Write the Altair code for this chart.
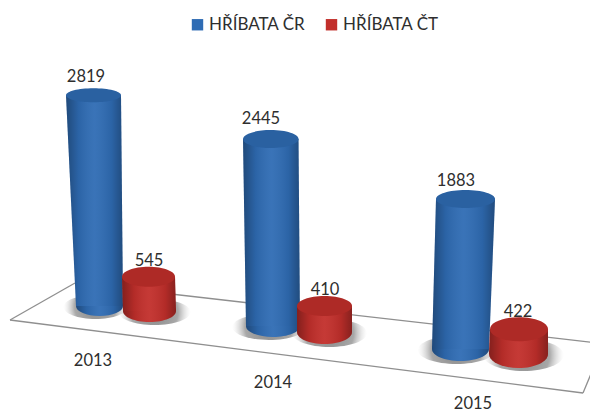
import altair as alt
import pandas as pd

# ---- values
years = ["2013", "2014", "2015"]
series = ["HŘÍBATA ČR", "HŘÍBATA ČT"]
values_cr = [2819, 2445, 1883]
values_ct = [545, 410, 422]

# ---- layout of the tilted 3D scene (page pixels of the reference), kept apart from the data
PX_PER_UNIT = 0.0755
W, H = 582, 406
foreshorten = {"HŘÍBATA ČR": [0.99, 1.013, 1.055], "HŘÍBATA ČT": [0.83, 0.84, 0.78]}
base_y = {"HŘÍBATA ČR": [306, 326, 349], "HŘÍBATA ČT": [311, 332, 354]}
top_edges = {"HŘÍBATA ČR": [(66, 121), (243, 298.5), (436, 495)],
             "HŘÍBATA ČT": [(122, 175), (297, 352), (490, 548)]}
bottom_edges = {"HŘÍBATA ČR": [(76, 123), (246, 300), (432, 489)],
                "HŘÍBATA ČT": [(123, 176), (297, 352), (489, 548)]}
top_ry = {"HŘÍBATA ČR": [7, 9, 9], "HŘÍBATA ČT": [10, 10, 12]}
bottom_ry = {"HŘÍBATA ČR": [10, 11, 12], "HŘÍBATA ČT": [11, 12, 14]}
shadow_shift = {"HŘÍBATA ČR": -4, "HŘÍBATA ČT": 5}
label_pos = {"HŘÍBATA ČR": [(86, 77), (261, 119), (456, 181)],
             "HŘÍBATA ČT": [(149, 261), (325, 290), (518, 312)]}
year_pos = [(93, 361), (273, 383), (473, 404)]
floor_edges = [[(10, 320), (75, 283)], [(10, 320), (583, 393)], [(583, 393), (598, 357)],
               [(75, 283), (598, 343)]]
colors = ["#2f6cb4", "#c22f2b"]
FONT = "Lato"
TEXT = "#2e2e2e"


def px_x(x):
    return x - 8


def unit_y(y):
    return (H + 8 - y) / PX_PER_UNIT


def ellipse(ratio):
    r = round(ratio, 3)
    return f"M-1,0A1,{r} 0 1 1 1,0A1,{r} 0 1 1 -1,0Z"


body, tops, bottoms, shadows, labels = [], [], [], [], []
for s, vals in zip(series, [values_cr, values_ct]):
    for i, v in enumerate(vals):
        b = unit_y(base_y[s][i])
        t = b + v * foreshorten[s][i]
        tl, tr = top_edges[s][i]
        bl, br = bottom_edges[s][i]
        bar = f"{s}-{years[i]}"
        body.append(dict(series=s, bar=bar, y=t, x=px_x(tl), x2=px_x(tr)))
        body.append(dict(series=s, bar=bar, y=b, x=px_x(bl), x2=px_x(br)))
        tops.append(dict(series=s, y=t, x=px_x((tl + tr) / 2), size=(tr - tl) ** 2,
                         path=ellipse(2 * top_ry[s][i] / (tr - tl))))
        bottoms.append(dict(series=s, y=b, x=px_x((bl + br) / 2), size=(br - bl) ** 2,
                            path=ellipse(2 * bottom_ry[s][i] / (br - bl))))
        shadow_w = (br - bl) * 1.36
        shadows.append(dict(y=unit_y(base_y[s][i] + 1), x=px_x((bl + br) / 2 + shadow_shift[s]),
                            size=shadow_w ** 2,
                            path=ellipse(2 * (bottom_ry[s][i] + 2) / shadow_w)))
        labels.append(dict(text=str(v), x=px_x(label_pos[s][i][0]), y=unit_y(label_pos[s][i][1])))

body, tops, bottoms = map(pd.DataFrame, (body, tops, bottoms))
floor = pd.DataFrame([dict(edge=k, x=px_x(x), y=unit_y(y))
                      for k, e in enumerate(floor_edges) for x, y in e])
year_df = pd.DataFrame([dict(text=t, x=px_x(p[0]), y=unit_y(p[1])) for t, p in zip(years, year_pos)])

xs = alt.Scale(domain=[0, W], range=[0, W], nice=False, zero=False)
ys = alt.Scale(domain=[0, H / PX_PER_UNIT], range=[H, 0], nice=False, zero=False)
X = alt.X("x:Q", scale=xs, axis=None)
Y = alt.Y("y:Q", scale=ys, axis=None)
color = alt.Color("series:N", scale=alt.Scale(domain=series, range=colors), title=None,
                  legend=alt.Legend(orient="none", legendX=181, legendY=8, direction="horizontal",
                                    symbolType="square", symbolSize=130, symbolStrokeWidth=0,
                                    labelFont=FONT, labelFontSize=17, labelColor=TEXT,
                                    labelOffset=3, columnPadding=17, padding=0))

shade = alt.Gradient(gradient="linear", x1=0, x2=1, y1=0, y2=0, stops=[
    alt.GradientStop(offset=0, color="rgba(0,0,0,0.32)"),
    alt.GradientStop(offset=0.22, color="rgba(0,0,0,0.08)"),
    alt.GradientStop(offset=0.5, color="rgba(255,255,255,0.05)"),
    alt.GradientStop(offset=0.8, color="rgba(0,0,0,0.08)"),
    alt.GradientStop(offset=1, color="rgba(0,0,0,0.3)"),
])
soft = alt.Gradient(gradient="radial", x1=0.5, y1=0.5, x2=0.5, y2=0.5, r1=0, r2=0.5, stops=[
    alt.GradientStop(offset=0, color="rgba(90,90,90,0.75)"),
    alt.GradientStop(offset=0.65, color="rgba(110,110,110,0.6)"),
    alt.GradientStop(offset=1, color="rgba(200,200,200,0)"),
])
shape = alt.Shape("path:N", scale=None)
size = alt.Size("size:Q", scale=None)

layers = [
    alt.Chart(floor).mark_line(color="#8f8f8f", strokeWidth=1.3).encode(x=X, y=Y, detail="edge:N", order=alt.Order("x:Q")),
    alt.Chart(pd.DataFrame(shadows)).mark_point(filled=True, fill=soft, opacity=1, strokeWidth=0)
    .encode(x=X, y=Y, shape=shape, size=size),
]

for s in series:
    b = body[body.series == s]
    tp = tops[tops.series == s]
    bt = bottoms[bottoms.series == s]
    layers += [
        alt.Chart(bt).mark_point(filled=True, opacity=1, strokeWidth=0).encode(x=X, y=Y, shape=shape, size=size, color=color),
        alt.Chart(bt).mark_point(filled=True, fill=shade, opacity=1, strokeWidth=0).encode(x=X, y=Y, shape=shape, size=size),
        alt.Chart(b).mark_area(orient="horizontal", opacity=1).encode(
            x=X, x2="x2:Q", y=Y, detail="bar:N", color=color),
        alt.Chart(b).mark_area(orient="horizontal", fill=shade, opacity=1).encode(x=X, x2="x2:Q", y=Y, detail="bar:N"),
        alt.Chart(tp).mark_point(filled=True, opacity=1, strokeWidth=0).encode(x=X, y=Y, shape=shape, size=size, color=color),
        alt.Chart(tp).mark_point(filled=True, fill="rgba(0,0,0,0.1)", opacity=1, strokeWidth=0).encode(x=X, y=Y, shape=shape, size=size),
    ]

text_enc = dict(x=X, y=Y, text="text:N")
layers += [
    alt.Chart(pd.DataFrame(labels)).mark_text(font=FONT, fontSize=16.5, color=TEXT, baseline="middle").encode(**text_enc),
    alt.Chart(year_df).mark_text(font=FONT, fontSize=16.5, color=TEXT, baseline="middle").encode(**text_enc),
]

chart = alt.layer(*layers).properties(width=W, height=H, padding=0, autosize="none", background="white").configure_view(stroke=None)
chart.save("out.html", embed_options={"renderer": "svg", "actions": False})
